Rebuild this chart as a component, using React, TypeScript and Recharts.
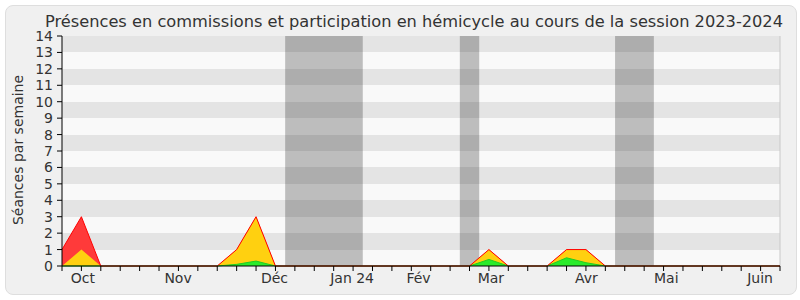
import { ComposedChart, Area, Line, XAxis, YAxis, CartesianGrid, ReferenceArea, ReferenceLine } from 'recharts';

// weekly values, week 0 = first week of the session (late Sept 2023)
const commissions = [1, 3, 0, 0, 0, 0, 0, 0, 0, 1, 3, 0, 0, 0, 0, 0, 0, 0, 0, 0, 0, 0, 1, 0, 0, 0, 1, 1, 0, 0, 0, 0, 0, 0, 0, 0, 0, 0];
const hemicycle = [0, 1, 0, 0, 0, 0, 0, 0, 0, 1, 3, 0, 0, 0, 0, 0, 0, 0, 0, 0, 0, 0, 1, 0, 0, 0, 1, 1, 0, 0, 0, 0, 0, 0, 0, 0, 0, 0];
const interventions = [0, 0, 0, 0, 0, 0, 0, 0, 0, 0.1, 0.3, 0, 0, 0, 0, 0, 0, 0, 0, 0, 0, 0, 0.4, 0, 0, 0, 0.5, 0.2, 0, 0, 0, 0, 0, 0, 0, 0, 0, 0];

const monthLabels = ['Oct', 'Nov', 'Déc', 'Jan 24', 'Fév', 'Mar', 'Avr', 'Mai', 'Juin'];
const monthTicks = [1.08, 5.98, 10.95, 14.95, 18.37, 22.1, 27.02, 31.14, 35.97];

// parliamentary breaks (in weeks)
const vacances = [[11.5, 15.5], [20.5, 21.5], [28.5, 30.5]];

const yTicks = [0, 1, 2, 3, 4, 5, 6, 7, 8, 9, 10, 11, 12, 13, 14];

const data = commissions.map((c, i) => ({
  w: i,
  commissions: c,
  hemicycle: hemicycle[i],
  interventions: interventions[i],
}));
const weekTicks = data.map((d) => d.w);

const FONT = '"DejaVu Sans", Verdana, sans-serif';

const BottomTick = (props: any) => {
  const { x, y, payload } = props;
  const mi = monthTicks.indexOf(payload.value);
  if (mi >= 0) {
    return (
      <text x={x} y={y + 17} textAnchor="middle" fontSize={14} fill="#333" fontFamily={FONT}>
        {monthLabels[mi]}
      </text>
    );
  }
  return <line x1={x} x2={x} y1={y} y2={y + 5} stroke="#000" />;
};

export default function App() {
  return (
    <div style={{ position: 'absolute', left: 0, top: 0, width: 800, height: 300, background: '#fff' }}>
      {/* frame */}
      <div
        style={{
          position: 'absolute', left: 5, top: 5, width: 790, height: 288,
          background: '#f0f0f0', border: '1px solid #dedede', borderRadius: 8,
        }}
      />
      <div style={{ position: 'absolute', left: 0, top: 0 }}>
        <ComposedChart width={800} height={300} data={data} margin={{ top: 34, right: 20, bottom: 4, left: 12 }}>
          <CartesianGrid vertical={false} stroke="none" horizontalFill={['#e4e4e4', '#f9f9f9']} />
          <XAxis
            xAxisId="top"
            orientation="top"
            type="number"
            domain={[0, 37]}
            ticks={weekTicks}
            interval={0}
            height={2}
            tickSize={2}
            tick={false}
            axisLine={false}
            tickLine={{ stroke: '#000' }}
          />
          <XAxis
            dataKey="w"
            type="number"
            domain={[0, 37]}
            ticks={[...weekTicks, ...monthTicks]}
            interval={0}
            height={30}
            tickSize={0}
            tickMargin={0}
            tickLine={false}
            axisLine={{ stroke: '#000' }}
            tick={<BottomTick />}
          />
          <YAxis
            domain={[0, 14]}
            ticks={yTicks}
            interval={0}
            width={50}
            tickSize={5}
            tickMargin={4}
            axisLine={{ stroke: '#000' }}
            tickLine={{ stroke: '#000' }}
            tick={{ fontSize: 14, fill: '#333', fontFamily: FONT }}
          />
          {vacances.map(([a, b], i) => (
            <ReferenceArea key={i} x1={a} x2={b} y1={0} y2={14} fill="#000" fillOpacity={0.24} stroke="none" ifOverflow="visible" />
          ))}
          <ReferenceLine x={37} stroke="#c8c8c8" />
          <Area type="linear" dataKey="commissions" stroke="none" fill="#ff3a3a" fillOpacity={1} isAnimationActive={false} />
          <Area type="linear" dataKey="hemicycle" stroke="none" fill="#ffd010" fillOpacity={1} isAnimationActive={false} />
          <Area type="linear" dataKey="interventions" stroke="#22cc22" fill="#2aeb2a" fillOpacity={1} isAnimationActive={false} />
          <Line type="linear" dataKey="commissions" stroke="#ff0000" strokeWidth={1} dot={false} isAnimationActive={false} />
        </ComposedChart>
      </div>
      <svg width={800} height={300} style={{ position: 'absolute', left: 0, top: 0, pointerEvents: 'none' }}>
        <text x={414} y={27} textAnchor="middle" fontSize={16} fill="#333" fontFamily={FONT} textLength={738} lengthAdjust="spacingAndGlyphs">
          Présences en commissions et participation en hémicycle au cours de la session 2023-2024
        </text>
        <text transform="translate(23,150) rotate(-90)" textAnchor="middle" fontSize={14} fill="#333" fontFamily={FONT}>
          Séances par semaine
        </text>
      </svg>
    </div>
  );
}
